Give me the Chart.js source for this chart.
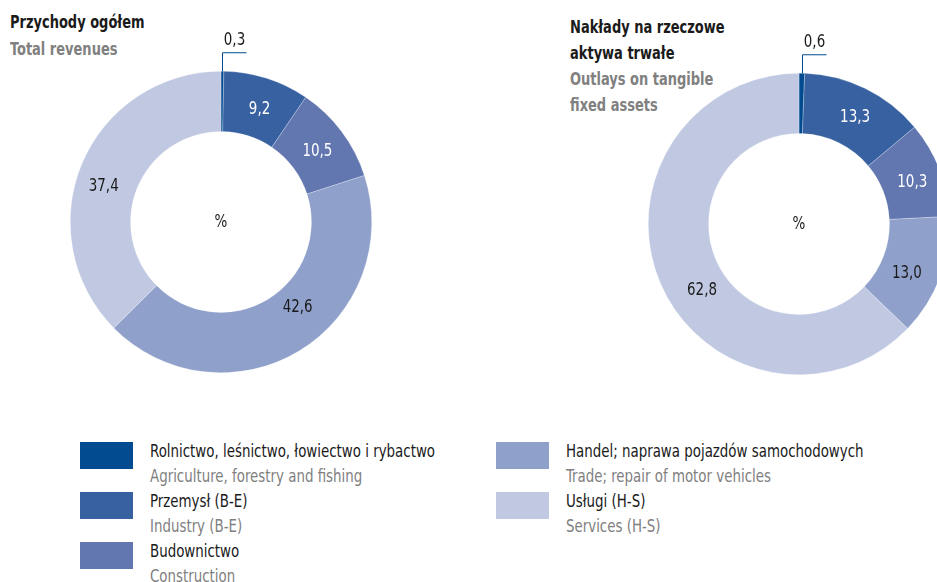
<!DOCTYPE html>
<html><head><meta charset="utf-8">
<script src="https://cdn.jsdelivr.net/npm/chart.js@4/dist/chart.umd.min.js"></script>
<style>
html,body{margin:0;padding:0;width:937px;height:582px;overflow:hidden;background:#fff;}
body{position:relative;font-family:"DejaVu Sans Condensed","Roboto",sans-serif;}
canvas{position:absolute;}
.t{position:absolute;font-weight:bold;font-size:17px;line-height:26px;white-space:nowrap;transform:scaleX(0.85);transform-origin:0 0;}
.pl{color:#1a1a1a;}
.en{color:#808080;}
.lg{position:absolute;font-size:17px;line-height:25px;white-space:nowrap;transform:scaleX(0.875);transform-origin:0 0;}
.sw{position:absolute;width:53px;height:27px;}
</style></head><body>
<div class="t" style="left:10px;top:9px;"><div class="pl">Przychody ogółem</div><div class="en" style="margin-top:1px">Total revenues</div></div>
<div class="t" style="left:570px;top:14px;"><div class="pl">Nakłady na rzeczowe<br>aktywa trwałe</div><div class="en">Outlays on tangible<br>fixed assets</div></div>
<canvas id="c1" width="302" height="347" style="left:70px;top:26px;width:302px;height:347px"></canvas>
<canvas id="c2" width="302" height="347" style="left:648px;top:28px;width:302px;height:347px"></canvas>
<div id="legend"></div>
<script>
const categoriesPL = ["Rolnictwo, leśnictwo, łowiectwo i rybactwo","Przemysł (B-E)","Budownictwo","Handel; naprawa pojazdów  samochodowych","Usługi (H-S)"];
const categoriesEN = ["Agriculture, forestry and fishing","Industry (B-E)","Construction","Trade; repair of motor vehicles","Services (H-S)"];
const revenues = [0.3, 9.2, 10.5, 42.6, 37.4];
const outlays = [0.6, 13.3, 10.3, 13.0, 62.8];

const colors = ["#034b91","#3761a0","#6277b0","#8fa0ca","#c1c9e2"];
const labelColors = ["#1a1a1a","#ffffff","#ffffff","#1a1a1a","#1a1a1a"];
const FONT = '"DejaVu Sans Condensed",Roboto,sans-serif';

// small nudges of label placement (px), per chart
const nudges1 = [[0,0],[2,3],[0,2],[14,-17],[-6,11]];
const nudges2 = [[0,0],[3,2],[1,3],[-5,7],[14,19]];

function fmt(v){return v.toFixed(1).replace('.',',');}

function drawText(ctx, txt, x, y){
  ctx.save();
  ctx.translate(x, y);
  ctx.scale(0.88, 1);
  ctx.fillText(txt, 0, 0);
  ctx.restore();
}

const labelPlugin = {
  id:'labels',
  afterDatasetsDraw(chart, args, opts){
    const ctx = chart.ctx;
    const meta = chart.getDatasetMeta(0);
    const data = chart.data.datasets[0].data;
    ctx.save();
    ctx.font = '17px ' + FONT;
    ctx.textAlign = 'center';
    ctx.textBaseline = 'middle';
    meta.data.forEach((arc, i) => {
      const p = arc.getProps(['x','y','startAngle','endAngle','innerRadius','outerRadius']);
      if (i === 0) {
        const mid = (p.startAngle + p.endAngle) / 2;
        const x0 = p.x + Math.cos(mid) * p.outerRadius;
        const y0 = p.y + Math.sin(mid) * p.outerRadius;
        const xx = Math.round(x0) + 0.5;
        ctx.strokeStyle = colors[0];
        ctx.lineWidth = 1;
        ctx.beginPath();
        ctx.moveTo(xx, y0);
        ctx.lineTo(xx, y0 - 18.5);
        ctx.lineTo(xx + 24, y0 - 18.5);
        ctx.stroke();
        ctx.fillStyle = '#1a1a1a';
        drawText(ctx, fmt(data[i]), xx + 12, y0 - 31);
        return;
      }
      const c = arc.tooltipPosition();
      const n = opts.nudges[i];
      ctx.fillStyle = labelColors[i];
      drawText(ctx, fmt(data[i]), c.x + n[0], c.y + n[1]);
    });
    ctx.fillStyle = '#1a1a1a';
    drawText(ctx, '%', meta.data[0].x, meta.data[0].y + 1);
    ctx.restore();
  }
};

function makeChart(id, values, nudges){
  return new Chart(document.getElementById(id), {
    type:'doughnut',
    data:{labels:categoriesEN, datasets:[{data:values, backgroundColor:colors, borderColor:'rgba(255,255,255,0.5)', borderWidth:0.5}]},
    options:{responsive:false, animation:false, cutout:'60%',
      layout:{padding:{top:45,left:0,right:0,bottom:0}},
      plugins:{legend:{display:false}, tooltip:{enabled:false}, labels:{nudges:nudges}}},
    plugins:[labelPlugin]
  });
}
makeChart('c1', revenues, nudges1);
makeChart('c2', outlays, nudges2);

const lg = document.getElementById('legend');
const pos = [[80,442],[80,492],[80,542],[496,442],[496,492]];
categoriesPL.forEach((name,i)=>{
  const [x,y] = pos[i];
  const sw = document.createElement('div');
  sw.className='sw'; sw.style.left=x+'px'; sw.style.top=y+'px'; sw.style.background=colors[i];
  lg.appendChild(sw);
  const t = document.createElement('div');
  t.className='lg'; t.style.left=(x+70)+'px'; t.style.top=(y-3)+'px';
  t.innerHTML='<div class="pl">'+name+'</div><div class="en">'+categoriesEN[i]+'</div>';
  lg.appendChild(t);
});
</script>
</body></html>
